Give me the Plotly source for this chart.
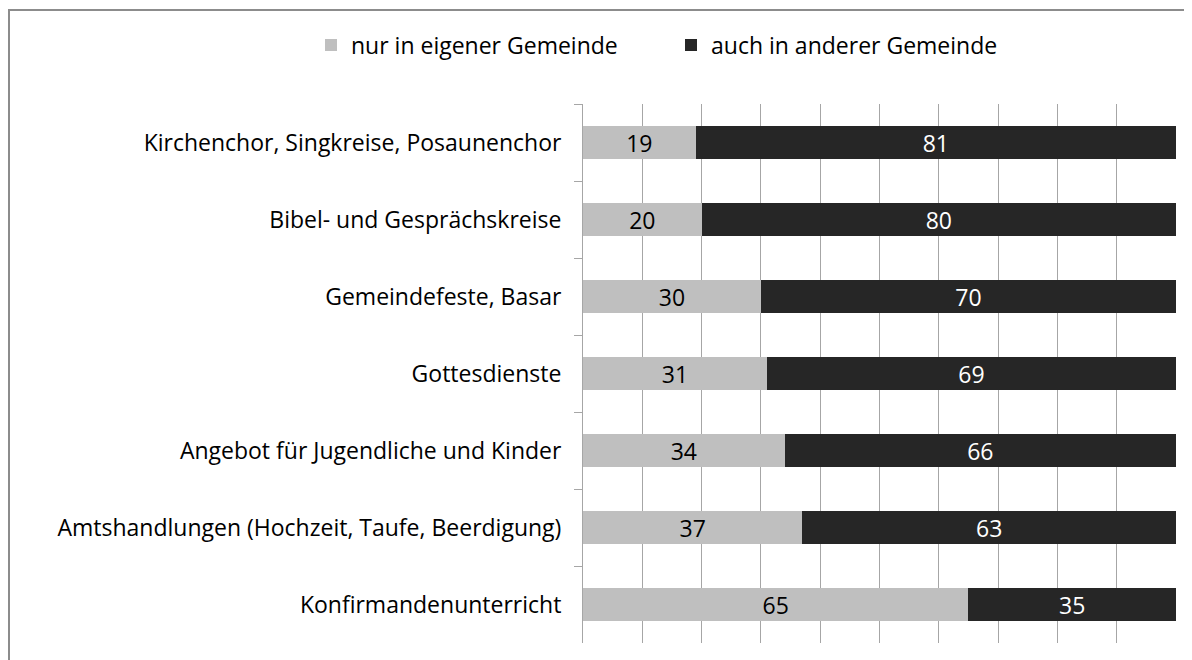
import plotly.graph_objects as go

categories = [
    "Kirchenchor, Singkreise, Posaunenchor",
    "Bibel- und Gesprächskreise",
    "Gemeindefeste, Basar",
    "Gottesdienste",
    "Angebot für Jugendliche und Kinder",
    "Amtshandlungen (Hochzeit, Taufe, Beerdigung)",
    "Konfirmandenunterricht",
]
nur_eigene = [19, 20, 30, 31, 34, 37, 65]
auch_andere = [81, 80, 70, 69, 66, 63, 35]
series_names = ["nur in eigener Gemeinde", "auch in anderer Gemeinde"]

FONT = "'Open Sans', Lato, sans-serif"
TXT = 23

fig = go.Figure()
fig.add_trace(go.Bar(
    y=categories, x=nur_eigene, orientation="h", name=series_names[0],
    marker=dict(color="#BFBFBF", line=dict(width=0)),
    text=nur_eigene, textposition="inside", insidetextanchor="middle",
    textangle=0, constraintext="none",
    textfont=dict(color="#000000", size=TXT, family=FONT),
))
fig.add_trace(go.Bar(
    y=categories, x=auch_andere, orientation="h", name=series_names[1],
    marker=dict(color="#262626", line=dict(width=0)),
    text=auch_andere, textposition="inside", insidetextanchor="middle",
    textangle=0, constraintext="none",
    textfont=dict(color="#FFFFFF", size=TXT, family=FONT),
))

# page body has an 8px margin: screen = figure + 8
OFF = 8
W, H = 1192 - OFF, 660 - OFF
L, R, T, B = 583 - OFF, 1192 - 1176, 104 - OFF, 660 - 643
pw, ph = W - L - R, H - T - B

def px(xs):
    return (xs - OFF - L) / pw

def py(ys):
    return (H - B - (ys - OFF)) / ph

fig.update_layout(
    width=W, height=H,
    barmode="stack", bargap=0.57,
    plot_bgcolor="white", paper_bgcolor="white",
    margin=dict(l=L, r=R, t=T, b=B, autoexpand=False),
    font=dict(family=FONT, size=22, color="#000000"),
    uniformtext=dict(mode="show", minsize=TXT),
    legend=dict(orientation="h", x=px(311), y=py(45), xanchor="left", yanchor="middle",
                font=dict(size=23, family=FONT), itemwidth=30,
                entrywidth=315, entrywidthmode="pixels",
                traceorder="normal", bgcolor="rgba(0,0,0,0)"),
    xaxis=dict(range=[0, 100], dtick=10, showgrid=True, gridcolor="#A6A6A6", gridwidth=1,
               showticklabels=False, zeroline=False, showline=False, fixedrange=True),
    yaxis=dict(categoryorder="array", categoryarray=categories, autorange="reversed",
               showline=True, linecolor="#A6A6A6", linewidth=1,
               ticks="outside", ticklen=8, tickcolor="#A6A6A6", tickson="boundaries",
               ticklabelstandoff=16, showgrid=False,
               tickfont=dict(size=23, family=FONT, color="#000000")),
    shapes=[
        dict(type="line", xref="paper", yref="paper", x0=px(9), x1=px(9), y0=py(9), y1=py(680),
             line=dict(color="#8C8C8C", width=2)),
        dict(type="line", xref="paper", yref="paper", x0=px(8), x1=px(1210), y0=py(10), y1=py(10),
             line=dict(color="#8C8C8C", width=2)),
    ],
)

fig.write_html("out.html")
